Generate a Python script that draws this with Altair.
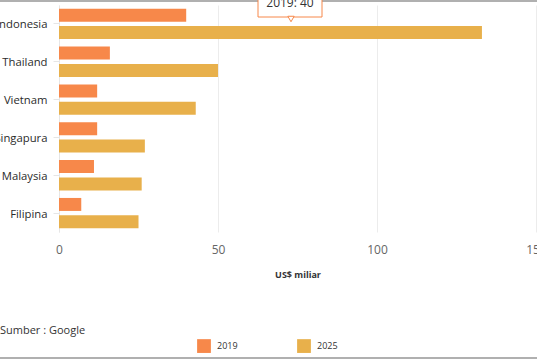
import altair as alt
import pandas as pd

countries = ["Indonesia", "Thailand", "Vietnam", "Singapura", "Malaysia", "Filipina"]
values_2019 = [40, 16, 12, 12, 11, 7]
values_2025 = [133, 50, 43, 27, 26, 25]
series = ["2019", "2025"]
colors = ["#F7884A", "#E8B04B"]
x_ticks = [0, 50, 100, 150]

rows = []
for c, v1, v2 in zip(countries, values_2019, values_2025):
    rows.append({"country": c, "series": "2019", "value": v1})
    rows.append({"country": c, "series": "2025", "value": v2})
df = pd.DataFrame(rows)

FONT = "Open Sans"

bars = alt.Chart(df).mark_bar().encode(
    y=alt.Y("country:N", sort=countries,
            scale=alt.Scale(paddingInner=0.2, paddingOuter=0.1),
            axis=alt.Axis(title=None, labelFontSize=11.3, labelColor="#2b2b2b",
                          labelFont=FONT, labelPadding=6, labelOffset=1.5, domain=True,
                          domainColor="#e6e6e6", ticks=True, tickColor="#e6e6e6",
                          tickSize=6, grid=False)),
    yOffset=alt.YOffset("series:N", scale=alt.Scale(paddingInner=0.25)),
    x=alt.X("value:Q", scale=alt.Scale(domain=[0, 150], nice=False),
            axis=alt.Axis(values=x_ticks, title="US$ miliar", titleFontSize=9,
                          titleFont=FONT, titleColor="#333333", titleFontWeight="bold",
                          titlePadding=15, labelFontSize=12, labelColor="#666666",
                          labelFont=FONT, labelPadding=12, domain=False, ticks=False,
                          grid=True, gridColor="#ececec", labelFlush=False)),
    color=alt.Color("series:N", scale=alt.Scale(domain=series, range=colors),
                    legend=alt.Legend(title=None, orient="none", direction="horizontal",
                                      legendX=138, legendY=334, symbolType="square",
                                      symbolSize=190, symbolStrokeWidth=0,
                                      labelFontSize=9, labelFont=FONT,
                                      labelColor="#333333", columnPadding=59,
                                      labelOffset=6)),
)

src = pd.DataFrame({"t": ["Sumber : Google"]})
source_text = alt.Chart(src).mark_text(align="left", baseline="middle", fontSize=11,
                                       font=FONT, color="#333333").encode(
    x=alt.value(-59), y=alt.value(326), text="t:N")

frame = pd.DataFrame({"k": ["top", "bottom"]})
top_line = alt.Chart(frame.iloc[:1]).mark_rule(color="#b0b0b0", strokeWidth=2).encode(
    x=alt.value(-59), x2=alt.value(480), y=alt.value(-4))
bottom_line = alt.Chart(frame.iloc[1:]).mark_rule(color="#b0b0b0", strokeWidth=2).encode(
    x=alt.value(-59), x2=alt.value(480), y=alt.value(353))

tip = pd.DataFrame({"t": ["2019: 40"]})
tip_box = alt.Chart(tip).mark_rect(fill="white", stroke="#F7884A", strokeWidth=1).encode(
    x=alt.value(199), x2=alt.value(263), y=alt.value(-20), y2=alt.value(12))
tip_ptr = alt.Chart(tip).mark_point(shape="triangle-down", size=40, filled=True,
                                    fill="white", stroke="#F7884A", strokeWidth=1,
                                    opacity=1).encode(
    x=alt.value(232), y=alt.value(14))
tip_text = alt.Chart(tip).mark_text(fontSize=12, font=FONT, color="#333333",
                                    baseline="alphabetic").encode(
    x=alt.value(231), y=alt.value(2), text="t:N")

chart = alt.layer(bars, source_text, top_line, bottom_line, tip_box, tip_ptr, tip_text).properties(
    width=477, height=227,
    padding={"left": 59, "top": 5, "right": 1, "bottom": 128},
    autosize=alt.AutoSizeParams(type="none"),
).configure_view(stroke=None)

chart.save("out.html", embed_options={"renderer": "svg", "actions": False})
